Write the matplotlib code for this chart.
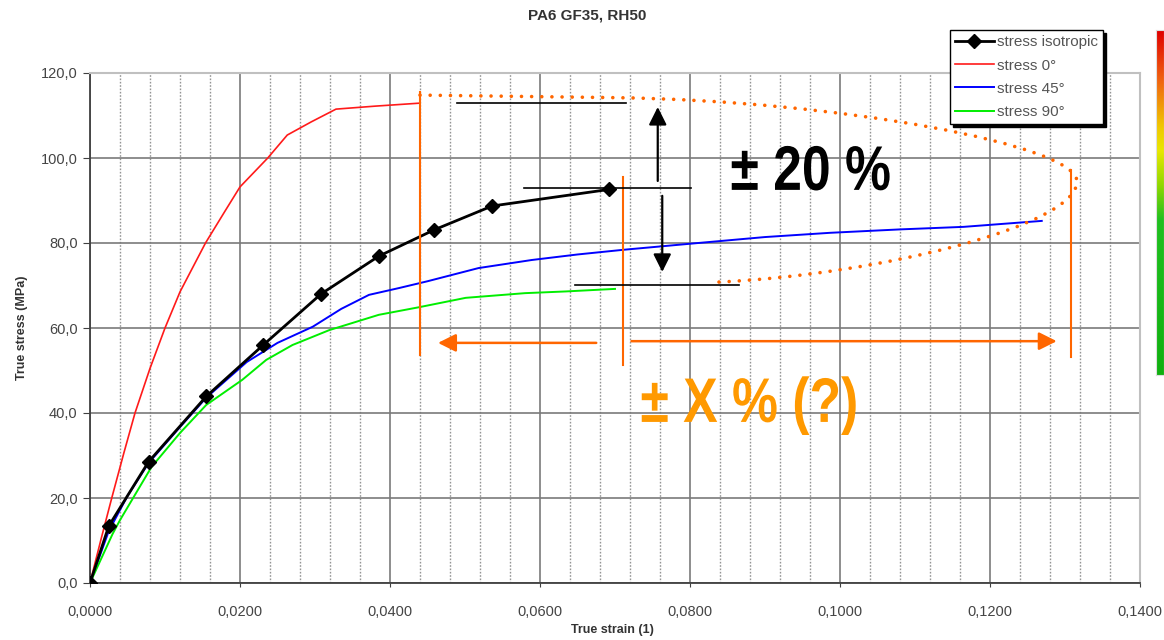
import numpy as np
import matplotlib
matplotlib.use("Agg")
import matplotlib.pyplot as plt
from matplotlib.path import Path
from matplotlib.patches import PathPatch
from matplotlib.colors import LinearSegmentedColormap
from matplotlib.textpath import TextPath
from matplotlib.font_manager import FontProperties
from matplotlib.transforms import Affine2D

plt.rcParams["font.family"] = ["Liberation Sans", "DejaVu Sans"]

# data
iso_strain = [0, 0.0025, 0.0078, 0.0155, 0.0231, 0.0308, 0.0385, 0.0459, 0.0536, 0.0692]
iso_stress = [0, 13.4, 28.5, 43.9, 56.0, 68.0, 76.9, 83.1, 88.7, 92.6]

s0_strain = [0, 0.0015, 0.0029, 0.0045, 0.0060, 0.0080, 0.0100, 0.0120, 0.0154,
             0.0180, 0.0200, 0.0237, 0.0263, 0.0295, 0.0328, 0.0380, 0.0439]
s0_stress = [0, 10.5, 20.0, 30.5, 40.0, 50.5, 60.0, 68.5, 80.0,
             87.5, 93.2, 100.0, 105.4, 108.5, 111.5, 112.2, 112.9]

s45_strain = [0, 0.0025, 0.0050, 0.0078, 0.0120, 0.0155, 0.0182, 0.0209, 0.0250,
              0.0297, 0.0335, 0.0372, 0.0412, 0.0450, 0.0518, 0.0589, 0.0650,
              0.0711, 0.0811, 0.0900, 0.0987, 0.1080, 0.1165, 0.1269]
s45_stress = [0, 12.2, 20.5, 28.2, 36.7, 43.6, 47.8, 52.0, 56.5,
              60.3, 64.5, 67.8, 69.4, 71.0, 74.1, 76.0, 77.3,
              78.4, 80.0, 81.4, 82.4, 83.2, 83.8, 85.2]

s90_strain = [0, 0.0030, 0.0040, 0.0082, 0.0120, 0.0155, 0.0203, 0.0235, 0.0270,
              0.0319, 0.0385, 0.0439, 0.0501, 0.0580, 0.0634, 0.0700]
s90_stress = [0, 11.5, 14.8, 27.3, 35.3, 41.9, 47.8, 52.5, 56.0,
              59.5, 63.1, 64.9, 67.1, 68.2, 68.6, 69.2]

series_labels = ["stress isotropic", "stress 0°", "stress 45°", "stress 90°"]

x_ticks = [0, 0.02, 0.04, 0.06, 0.08, 0.10, 0.12, 0.14]
x_tick_labels = ["0,0000", "0,0200", "0,0400", "0,0600", "0,0800", "0,1000", "0,1200", "0,1400"]
y_ticks = [0, 20, 40, 60, 80, 100, 120]
y_tick_labels = ["0,0", "20,0", "40,0", "60,0", "80,0", "100,0", "120,0"]

# annotation geometry (data coords)
orange_vlines = [(0.0440, 53.6, 115.5), (0.0711, 51.3, 95.5), (0.1308, 53.2, 97.2)]
black_hlines = [(0.0490, 0.0714, 112.9), (0.0579, 0.0801, 92.9), (0.0646, 0.0866, 70.1)]

# colour bar on the right edge (bottom -> top)
bar_stops = [0.0, 0.45, 0.55, 0.65, 0.72, 0.86, 1.0]
bar_colors = ["#10b010", "#20c020", "#90d800", "#e8e800", "#f0c800", "#f06010", "#e00000"]

fig = plt.figure(figsize=(11.64, 6.4), dpi=100)
ax = fig.add_axes([90 / 1164, 57 / 640, 1050 / 1164, 510 / 640])

ax.plot(s0_strain, s0_stress, color="#ff1a1a", lw=1.2, label=series_labels[1], zorder=3)
ax.plot(s45_strain, s45_stress, color="#0000ff", lw=1.4, label=series_labels[2], zorder=3)
ax.plot(s90_strain, s90_stress, color="#00ee00", lw=1.4, label=series_labels[3], zorder=3)
ax.plot(iso_strain, iso_stress, color="black", lw=2.0, marker="D", markersize=7,
        label=series_labels[0], zorder=4)

ax.set_xlim(0, 0.14)
ax.set_ylim(0, 120)
ax.set_xticks(x_ticks)
ax.set_xticklabels(x_tick_labels)
ax.set_yticks(y_ticks)
ax.set_yticklabels(y_tick_labels)
ax.set_xticks(np.arange(0, 0.1401, 0.004), minor=True)
ax.tick_params(axis="x", which="major", length=3, pad=13, labelsize=10.5,
               labelcolor="#444444", color="#404040")
ax.tick_params(axis="y", which="major", length=5, pad=4, labelsize=10.5,
               labelcolor="#444444", color="#404040")
ax.tick_params(axis="x", which="minor", length=0)

ax.set_axisbelow(True)
ax.grid(True, which="major", color="#7a7a7a", lw=1.2)
ax.grid(True, which="minor", axis="x", color="#959595", lw=1.0, ls=(0, (1.2, 1.2)))
for side in ["left", "bottom"]:
    ax.spines[side].set_color("#404040")
    ax.spines[side].set_linewidth(1.3)
for side in ["top", "right"]:
    ax.spines[side].set_color("#c0c0c0")
    ax.spines[side].set_linewidth(1.5)

# orange bits
orange = "#ff6600"
for x, y0, y1 in orange_vlines:
    ax.plot([x, x], [y0, y1], color=orange, lw=1.5, zorder=5)

curve = Path(
    [(0.0440, 114.8), (0.0700, 114.2),
     (0.1000, 113.5), (0.1316, 103.0), (0.1316, 94.5),
     (0.1316, 84.0), (0.1050, 72.5), (0.0837, 70.8)],
    [Path.MOVETO, Path.LINETO,
     Path.CURVE4, Path.CURVE4, Path.CURVE4,
     Path.CURVE4, Path.CURVE4, Path.CURVE4])
ax.add_patch(PathPatch(curve, fill=False, edgecolor=orange, lw=2.6,
                       ls=(0, (0.01, 2.8)), capstyle="round", zorder=5))

arrow_o = dict(arrowstyle="-|>,head_length=0.6,head_width=0.3", color=orange, lw=1.8,
               mutation_scale=18, shrinkA=0, shrinkB=0)
ax.annotate("", xy=(0.0464, 56.5), xytext=(0.0675, 56.5), arrowprops=arrow_o, zorder=5)
ax.annotate("", xy=(0.1289, 56.9), xytext=(0.0722, 56.9), arrowprops=arrow_o, zorder=5)

# black bits
for x0, x1, y in black_hlines:
    ax.plot([x0, x1], [y, y], color="black", lw=1.2, zorder=5)
arrow_k = dict(arrowstyle="-|>,head_length=0.6,head_width=0.3", color="black", lw=1.6,
               mutation_scale=18, shrinkA=0, shrinkB=0)
ax.annotate("", xy=(0.0757, 112.0), xytext=(0.0757, 94.6), arrowprops=arrow_k, zorder=5)
ax.annotate("", xy=(0.0763, 73.2), xytext=(0.0763, 91.1), arrowprops=arrow_k, zorder=5)


# big condensed bold labels: no narrow font installed, so squeeze a text path
def narrow_text(x, y, s, color, size_px=63, squeeze=0.82):
    tp = TextPath((0, 0), s, size=1, prop=FontProperties(family="Liberation Sans", weight="bold"))
    px, py = ax.transData.transform((x, y))
    tr = Affine2D().scale(size_px * squeeze, size_px).translate(px, py)
    fig.add_artist(PathPatch(tp, transform=tr, facecolor=color, edgecolor="none", zorder=6))


narrow_text(0.0854, 92.5, "± 20 %", "black")
narrow_text(0.0734, 37.9, "± X % (?)", "#ff9900")

# titles and labels
fig.text(587 / 1164, 1 - 16 / 640, "PA6 GF35, RH50", ha="center", va="center",
         fontsize=11, fontweight="bold", color="#333333")
fig.text(22 / 1164, 1 - 328 / 640, "True stress (MPa)", rotation=90, ha="center",
         va="center", fontsize=9, fontweight="bold", color="#333333")
fig.text(612 / 1164, 1 - 630 / 640, "True strain (1)", ha="center", va="center",
         fontsize=9, fontweight="bold", color="#333333")

handles, labels = ax.get_legend_handles_labels()
order = [3, 0, 1, 2]
leg = fig.legend([handles[i] for i in order], [labels[i] for i in order],
                 loc="upper left", bbox_to_anchor=(950 / 1164, 1 - 30 / 640),
                 fontsize=11, frameon=True, fancybox=False,
                 shadow={"color": "black", "alpha": 1.0},
                 handlelength=2.5, handletextpad=0.2, labelspacing=0.6,
                 borderpad=0.35, borderaxespad=0)
leg.get_frame().set_edgecolor("black")
leg.get_frame().set_linewidth(1.0)
for t in leg.get_texts():
    t.set_color("#555555")

cax = fig.add_axes([1156 / 1164, 265 / 640, 8 / 1164, 345 / 640])
cmap = LinearSegmentedColormap.from_list("bar", list(zip(bar_stops, bar_colors)))
cax.imshow(np.linspace(0, 1, 256)[::-1].reshape(-1, 1), aspect="auto", cmap=cmap)
cax.set_xticks([])
cax.set_yticks([])
for s in cax.spines.values():
    s.set_color("#dddddd")

fig.savefig("out.png", dpi=100)
